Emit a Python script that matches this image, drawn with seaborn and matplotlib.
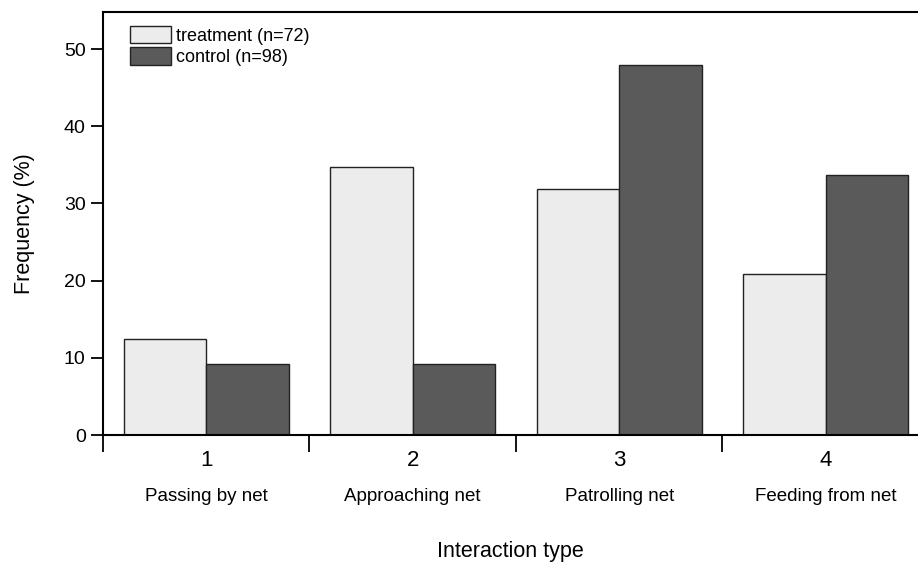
import matplotlib
matplotlib.use("Agg")
import matplotlib.pyplot as plt
import matplotlib.transforms as mtransforms
import pandas as pd
import seaborn as sns

# interaction types (x) and frequencies (%) per group
TYPE_NUMS = ["1", "2", "3", "4"]
TYPE_NAMES = ["Passing by net", "Approaching net", "Patrolling net", "Feeding from net"]
TREATMENT = [12.5, 34.7, 31.9, 20.8]
CONTROL = [9.2, 9.2, 48.0, 33.7]
GROUPS = ["treatment (n=72)", "control (n=98)"]
COLORS = ["#ececec", "#5a5a5a"]

df = pd.DataFrame({
    "type": TYPE_NAMES * 2,
    "freq": TREATMENT + CONTROL,
    "group": [GROUPS[0]] * 4 + [GROUPS[1]] * 4,
})

sns.set_style("ticks")
plt.rcParams["font.family"] = ["Liberation Sans", "DejaVu Sans"]
plt.rcParams["text.color"] = "black"
plt.rcParams["axes.labelcolor"] = "black"
plt.rcParams["xtick.color"] = "black"
plt.rcParams["ytick.color"] = "black"

fig = plt.figure(figsize=(9.18, 5.67), dpi=100)
ax = fig.add_axes([0.1122, 0.2328, 0.8878, 0.7460])

sns.barplot(
    data=df, x="type", y="freq", hue="group", order=TYPE_NAMES,
    hue_order=GROUPS, palette=COLORS, width=0.8, saturation=1,
    edgecolor="#222222", linewidth=1.0, ax=ax,
)

ax.set_xlim(-0.5, 3.447)
ax.set_ylim(0, 54.8)
ax.set_yticks([0, 10, 20, 30, 40, 50])

# group boundaries get the tick marks, group centres get the labels
ax.set_xticks([-0.5, 0.5, 1.5, 2.5])
ax.set_xticklabels([])
ax.set_xticks([0, 1, 2, 3], minor=True)
ax.set_xticklabels(TYPE_NUMS, minor=True)
ax.tick_params(axis="x", which="major", direction="out", length=12, width=1.3)
ax.tick_params(axis="x", which="minor", length=0, pad=11, labelsize=16)
ax.tick_params(axis="y", direction="out", length=9, width=1.3, labelsize=14)

# second row: interaction names under the numbers
trans = mtransforms.blended_transform_factory(ax.transData, ax.transAxes)
for i, name in enumerate(TYPE_NAMES):
    ax.text(i, -0.145, name, transform=trans, ha="center", va="center", fontsize=13.5)

ax.spines["right"].set_visible(False)
for s in ["left", "top", "bottom"]:
    ax.spines[s].set_linewidth(1.5)
    ax.spines[s].set_color("black")

ax.set_xlabel("Interaction type", fontsize=15.5)
ax.xaxis.set_label_coords(0.5, -0.25)
ax.set_ylabel("Frequency (%)", fontsize=15.5, labelpad=21)

leg = ax.legend(loc="upper left", bbox_to_anchor=(0.016, 1.0), frameon=False,
                fontsize=13, handlelength=2.3, handleheight=1.15,
                handletextpad=0.25, labelspacing=0.12, borderaxespad=0.35)
for h in leg.legend_handles:
    h.set_edgecolor("#222222")

fig.savefig("out.png", dpi=100)
